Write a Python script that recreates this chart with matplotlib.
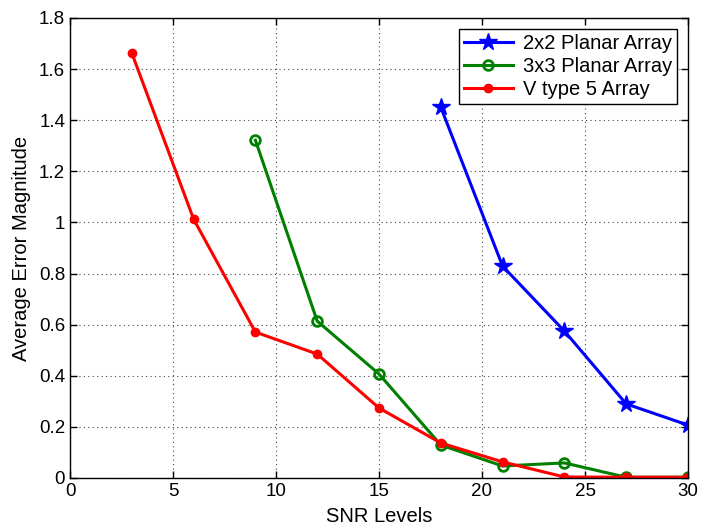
import matplotlib
matplotlib.use("Agg")
import matplotlib.pyplot as plt

plt.rcParams['font.family'] = ['Liberation Sans', 'DejaVu Sans']

snr_2x2 = [18, 21, 24, 27, 30]
err_2x2 = [1.451, 0.829, 0.575, 0.290, 0.207]
snr_3x3 = [9, 12, 15, 18, 21, 24, 27, 30]
err_3x3 = [1.322, 0.614, 0.407, 0.129, 0.047, 0.059, 0.003, 0.003]
snr_v5 = [3, 6, 9, 12, 15, 18, 21, 24, 27, 30]
err_v5 = [1.663, 1.013, 0.571, 0.485, 0.274, 0.137, 0.063, 0.004, 0.003, 0.003]

labels = ['2x2 Planar Array', '3x3 Planar Array', 'V type 5 Array']

fig = plt.figure(figsize=(7.04, 5.29), dpi=100)
ax = fig.add_axes([70/704, 51/529, 618/704, 460/529])

ax.plot(snr_2x2, err_2x2, '-', color='#0000ff', lw=2.2, marker='*', ms=13, label=labels[0])
ax.plot(snr_3x3, err_3x3, '-', color='#008000', lw=2.2, marker='o', ms=7, mfc='none', mew=2, label=labels[1])
ax.plot(snr_v5, err_v5, '-', color='#ff0000', lw=2.2, marker='o', ms=6, label=labels[2])

ax.set_xlim(0, 30)
ax.set_ylim(0, 1.8)
ax.set_xticks([0, 5, 10, 15, 20, 25, 30])
ax.set_yticks([0, 0.2, 0.4, 0.6, 0.8, 1, 1.2, 1.4, 1.6, 1.8])
ax.set_yticklabels(['0', '0.2', '0.4', '0.6', '0.8', '1', '1.2', '1.4', '1.6', '1.8'])
ax.grid(True, linestyle=(0, (1, 3)), color='#444444', lw=0.8)
ax.tick_params(direction='in', top=True, right=True, labelsize=13.5, length=5, width=1)
for s in ax.spines.values():
    s.set_linewidth(1)
ax.set_xlabel('SNR Levels', fontsize=14.5, labelpad=5)
ax.set_ylabel('Average Error Magnitude', fontsize=14.5, labelpad=6)

leg = ax.legend(loc='upper right', fontsize=14.5, frameon=True, fancybox=False,
                edgecolor='black', framealpha=1, borderaxespad=0.55,
                handlelength=2.4, handletextpad=0.5, labelspacing=0.2, borderpad=0.25)
leg.get_frame().set_linewidth(1)

fig.savefig('out.png', dpi=100)
